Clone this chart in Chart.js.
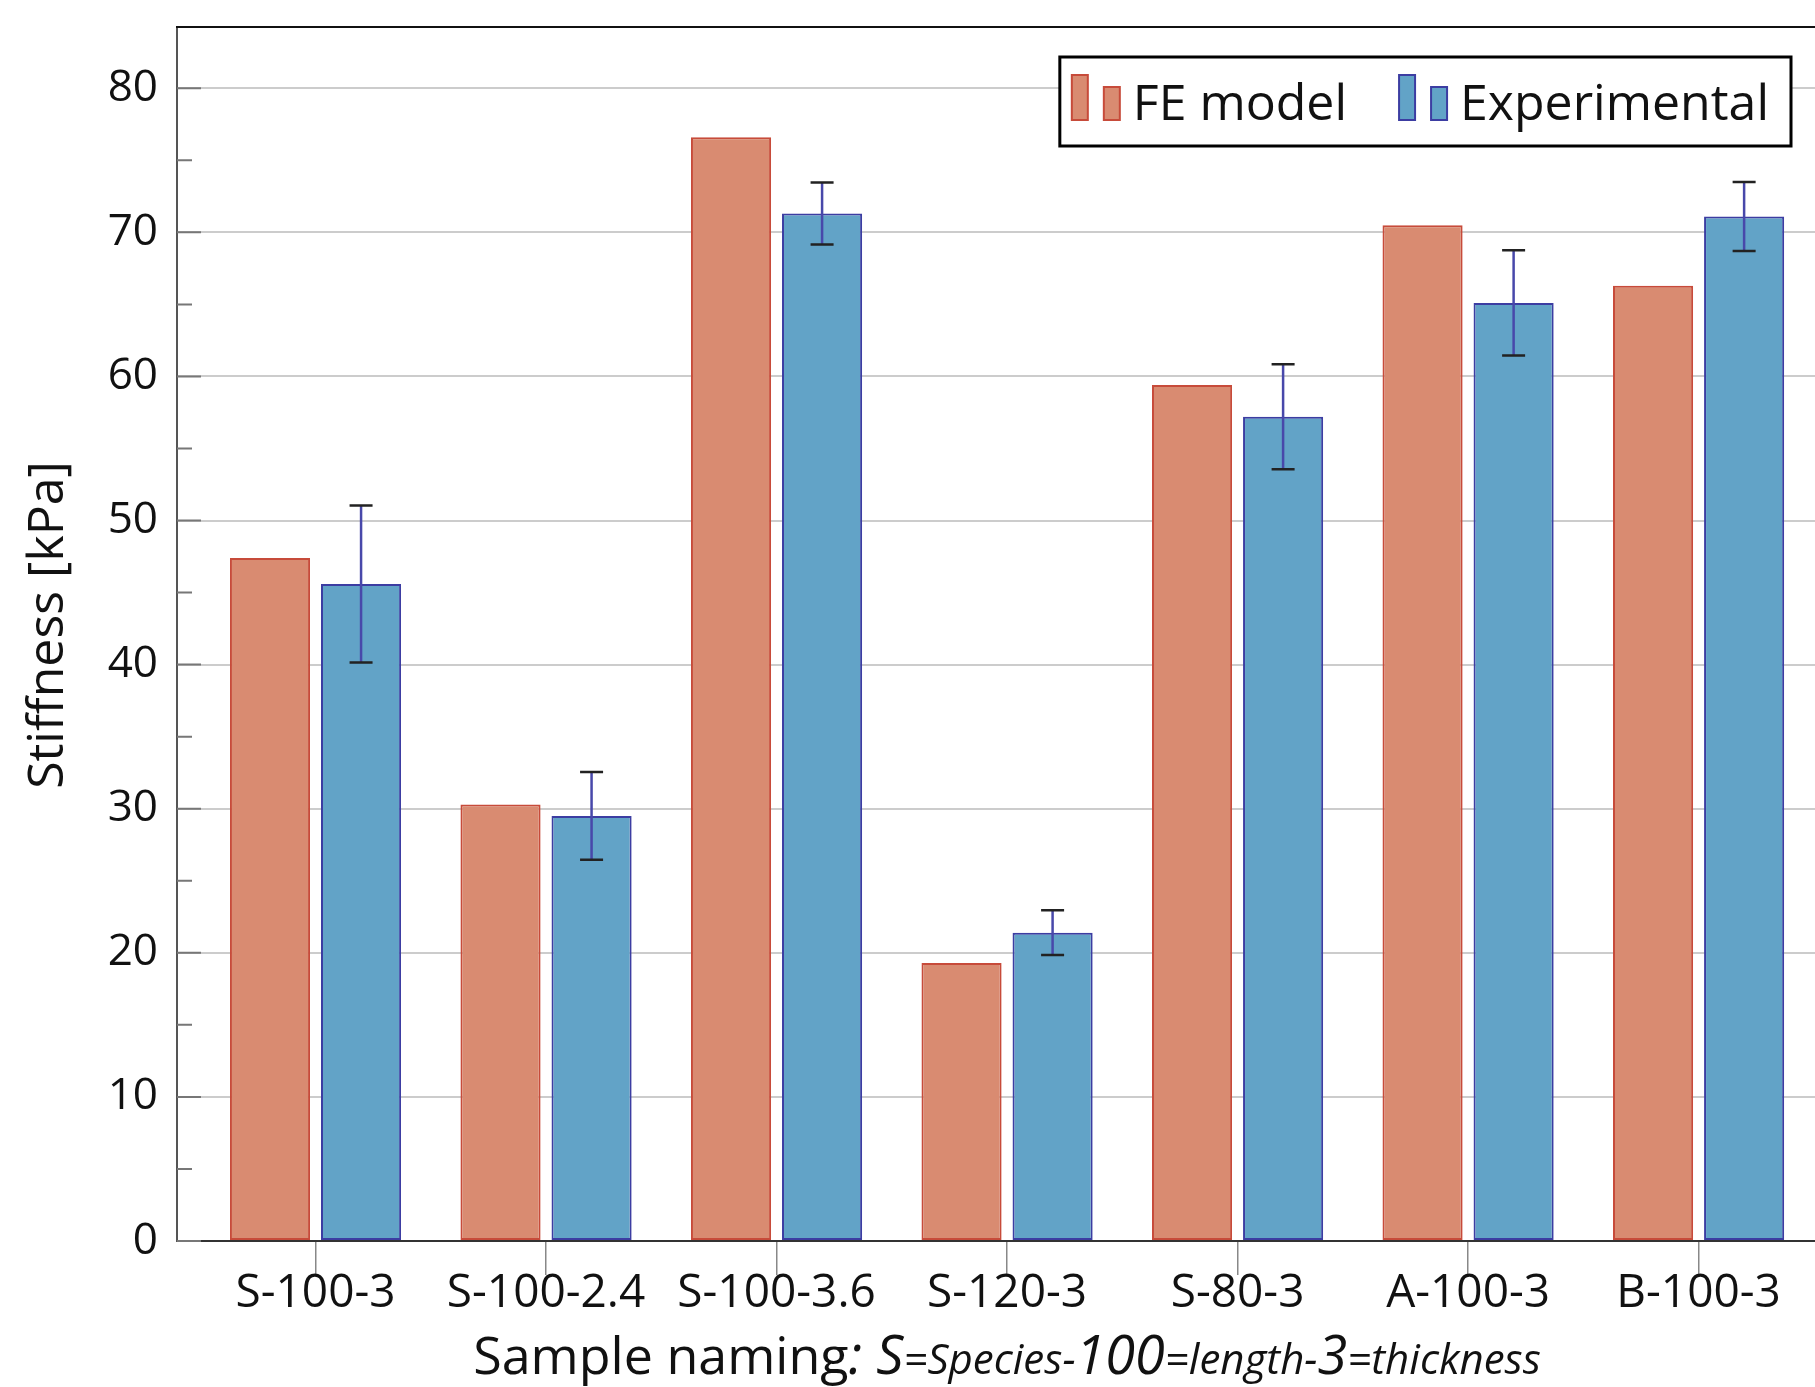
<!DOCTYPE html>
<html>
<head>
<meta charset="utf-8">
<script src="https://cdn.jsdelivr.net/npm/chart.js@4.4.1/dist/chart.umd.min.js"></script>
<style>
  html, body { margin: 0; padding: 0; background: #fff; overflow: hidden; }
  canvas { display: block; }
</style>
</head>
<body>
<canvas id="c" width="1815" height="1387"></canvas>
<script>
// ---- data ----
const categories = ['S-100-3', 'S-100-2.4', 'S-100-3.6', 'S-120-3', 'S-80-3', 'A-100-3', 'B-100-3'];
const feModel = [47.4, 30.3, 76.6, 19.3, 59.4, 70.5, 66.3];
const experimental = [45.6, 29.5, 71.3, 21.4, 57.2, 65.1, 71.1];
const experimentalError = [5.45, 3.05, 2.15, 1.55, 3.65, 3.65, 2.4];
const seriesNames = ['FE model', 'Experimental'];
const yTickValues = [0, 10, 20, 30, 40, 50, 60, 70, 80];
const yMinorTickValues = [5, 15, 25, 35, 45, 55, 65, 75];
const yAxisTitle = 'Stiffness [kPa]';
const xAxisTitleParts = [
  { text: 'Sample naming', italic: false, small: false },
  { text: ': S', italic: true, small: false },
  { text: '=Species-', italic: true, small: true },
  { text: '100', italic: true, small: false },
  { text: '=length-', italic: true, small: true },
  { text: '3', italic: true, small: false },
  { text: '=thickness', italic: true, small: true }
];

const FONT = '"Open Sans", "DejaVu Sans", sans-serif';
const feFill = '#D98B71', feBorder = '#C74B3A';
const exFill = '#62A3C7', exBorder = '#3C3DA2';

const errorBarPlugin = {
  id: 'errorBars',
  afterDatasetsDraw(chart) {
    const ctx = chart.ctx;
    const meta = chart.getDatasetMeta(1);
    const y = chart.scales.y;
    ctx.save();
    meta.data.forEach((bar, i) => {
      const v = experimental[i], e = experimentalError[i];
      const yt = y.getPixelForValue(v + e), yb = y.getPixelForValue(v - e);
      ctx.strokeStyle = '#4848AA';
      ctx.lineWidth = 2.5;
      ctx.beginPath(); ctx.moveTo(bar.x, yt); ctx.lineTo(bar.x, yb); ctx.stroke();
      ctx.strokeStyle = '#222';
      ctx.lineWidth = 2.5;
      ctx.beginPath();
      ctx.moveTo(bar.x - 11.5, yt); ctx.lineTo(bar.x + 11.5, yt);
      ctx.moveTo(bar.x - 11.5, yb); ctx.lineTo(bar.x + 11.5, yb);
      ctx.stroke();
    });
    ctx.restore();
  }
};

const framePlugin = {
  id: 'frame',
  afterDraw(chart) {
    const ctx = chart.ctx;
    const a = chart.chartArea;
    const y = chart.scales.y;
    ctx.save();
    // top border
    ctx.strokeStyle = '#111';
    ctx.lineWidth = 2;
    ctx.beginPath(); ctx.moveTo(a.left - 1, a.top); ctx.lineTo(a.right, a.top); ctx.stroke();
    // inward y tick marks
    ctx.strokeStyle = '#777';
    ctx.lineWidth = 2;
    ctx.beginPath();
    yTickValues.forEach(v => { const p = y.getPixelForValue(v); ctx.moveTo(a.left, p); ctx.lineTo(a.left + 24, p); });
    yMinorTickValues.forEach(v => { const p = y.getPixelForValue(v); ctx.moveTo(a.left, p); ctx.lineTo(a.left + 15, p); });
    ctx.stroke();

    // y axis title
    ctx.save();
    ctx.translate(49, (a.top + a.bottom) / 2 - 9);
    ctx.rotate(-Math.PI / 2);
    ctx.font = '50px ' + FONT;
    ctx.fillStyle = '#111';
    ctx.textAlign = 'center';
    ctx.textBaseline = 'middle';
    ctx.fillText(yAxisTitle, 0, 0);
    ctx.restore();

    // legend
    ctx.font = '50px ' + FONT;
    ctx.textBaseline = 'alphabetic';
    ctx.textAlign = 'left';
    const datasets = chart.data.datasets;
    const markerW = 16, tallH = 45, shortH = 33, gapM = 16, gapT = 13, gapItem = 52;
    let total = 0;
    datasets.forEach((ds, i) => {
      total += markerW + gapM + markerW + gapT + ctx.measureText(ds.label).width;
      if (i < datasets.length - 1) total += gapItem;
    });
    const boxRight = a.right - 24, padL = 12, padR = 22;
    const boxLeft = boxRight - padR - total - padL;
    const boxTop = 57, boxBottom = 146, base = 120;
    ctx.fillStyle = '#fff';
    ctx.fillRect(boxLeft, boxTop, boxRight - boxLeft, boxBottom - boxTop);
    ctx.strokeStyle = '#000';
    ctx.lineWidth = 3;
    ctx.strokeRect(boxLeft, boxTop, boxRight - boxLeft, boxBottom - boxTop);
    let x = boxLeft + padL;
    datasets.forEach((ds) => {
      ctx.fillStyle = ds.backgroundColor;
      ctx.strokeStyle = ds.borderColor;
      ctx.lineWidth = 2;
      ctx.fillRect(x, base - tallH, markerW, tallH);
      ctx.strokeRect(x, base - tallH, markerW, tallH);
      x += markerW + gapM;
      ctx.fillRect(x, base - shortH, markerW, shortH);
      ctx.strokeRect(x, base - shortH, markerW, shortH);
      x += markerW + gapT;
      ctx.fillStyle = '#111';
      ctx.fillText(ds.label, x, base);
      x += ctx.measureText(ds.label).width + gapItem;
    });

    // x axis title with mixed styles
    const fontFor = p => (p.italic ? 'italic ' : '') + (p.small ? '42px ' : (p.italic ? '54px ' : '52px ')) + FONT;
    let w = 0;
    xAxisTitleParts.forEach(p => { ctx.font = fontFor(p); w += ctx.measureText(p.text).width; });
    let tx = (a.left + a.right) / 2 + 11 - w / 2;
    ctx.fillStyle = '#111';
    xAxisTitleParts.forEach(p => {
      ctx.font = fontFor(p);
      ctx.fillText(p.text, tx, 1374);
      tx += ctx.measureText(p.text).width;
    });
    ctx.restore();
  }
};

new Chart(document.getElementById('c'), {
  type: 'bar',
  data: {
    datasets: [
      {
        label: seriesNames[0],
        data: feModel.map((v, i) => ({ x: i, y: v })),
        backgroundColor: feFill,
        borderColor: feBorder,
        borderWidth: 2,
        borderSkipped: false
      },
      {
        label: seriesNames[1],
        data: experimental.map((v, i) => ({ x: i, y: v })),
        backgroundColor: exFill,
        borderColor: exBorder,
        borderWidth: 2,
        borderSkipped: false
      }
    ]
  },
  options: {
    responsive: false,
    animation: false,
    events: [],
    categoryPercentage: 0.79,
    barPercentage: 0.88,
    layout: { padding: { top: 27, left: 0, right: 0, bottom: 0 } },
    plugins: { legend: { display: false }, tooltip: { enabled: false } },
    scales: {
      x: {
        type: 'linear',
        min: -0.601,
        max: 6.505,
        offset: false,
        afterBuildTicks: s => { s.ticks = categories.map((_, i) => ({ value: i })); },
        afterFit: s => { s.height = 146; s.paddingLeft = 0; s.paddingRight = 0; },
        ticks: {
          callback: v => categories[v],
          autoSkip: false,
          maxRotation: 0,
          padding: -9,
          color: '#111',
          font: { family: FONT, size: 46 }
        },
        grid: { offset: false, drawOnChartArea: false, drawTicks: true, tickLength: 34, color: '#888', lineWidth: 1.5 },
        border: { display: true, color: '#333', width: 2 }
      },
      y: {
        min: 0,
        max: 84.25,
        afterBuildTicks: s => { s.ticks = yTickValues.map(v => ({ value: v })); },
        afterFit: s => { s.width = 177; s.paddingTop = 0; s.paddingBottom = 0; },
        ticks: {
          padding: 19,
          color: '#111',
          font: { family: FONT, size: 44 }
        },
        grid: { drawTicks: false, color: '#cccccc', lineWidth: 2 },
        border: { display: true, color: '#555', width: 2 }
      }
    }
  },
  plugins: [errorBarPlugin, framePlugin]
});
</script>
</body>
</html>
